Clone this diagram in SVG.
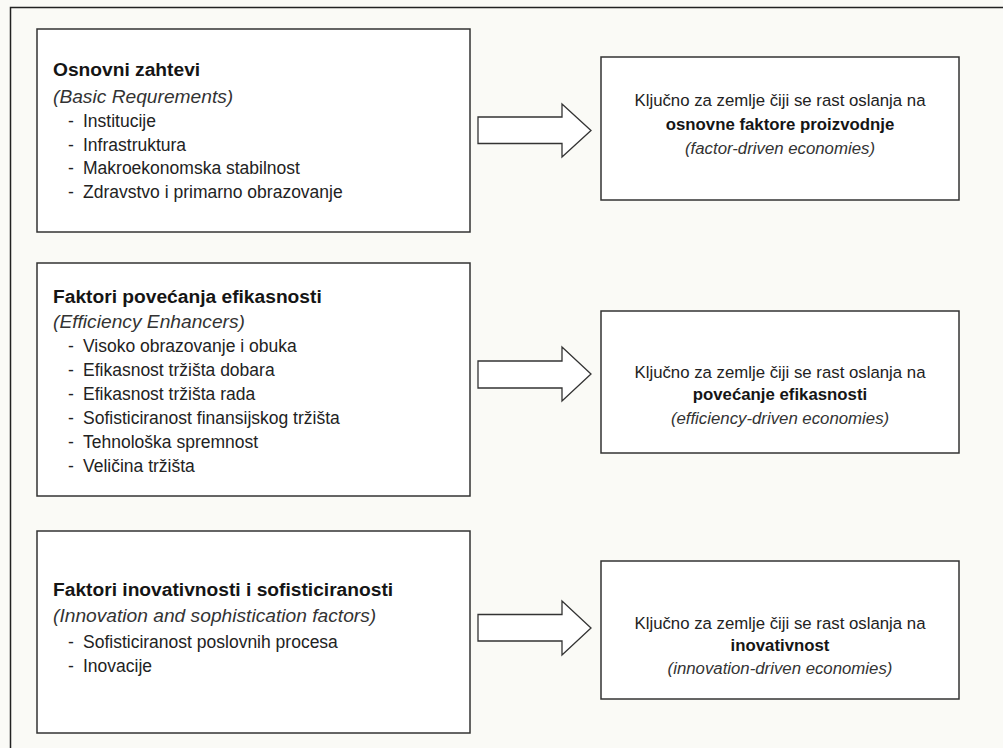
<svg xmlns="http://www.w3.org/2000/svg" width="1003" height="748" viewBox="0 0 1003 748">
<style>
.bg{fill:#fafaf6}
.frame{stroke:#222;stroke-width:1.5;fill:none}
.box{fill:#fff;stroke:#333;stroke-width:1.5}
.arrow{fill:#fff;stroke:#333;stroke-width:1.3;stroke-linejoin:miter}
text{font-family:"Liberation Sans",Arial,sans-serif;fill:#151515}
.t{font-size:19.2px;font-weight:bold}
.s{font-size:19.2px;font-style:italic;fill:#333}
.i{font-size:17.5px;fill:#222}
.r{font-size:16.8px;text-anchor:middle;fill:#222}
.rb{font-size:16.8px;font-weight:bold;text-anchor:middle}
.ri{font-size:16.8px;font-style:italic;text-anchor:middle;fill:#333}
</style>
<rect class="bg" x="0" y="0" width="1003" height="748"/>
<path class="frame" d="M10.5,748 V7.5 H1003"/>

<g id="node-basic">
<rect class="box" x="37" y="29" width="433" height="203"/>
<text class="t" x="53" y="76">Osnovni zahtevi</text>
<text class="s" x="53" y="103">(Basic Requrements)</text>
<text class="i" x="68" y="127">-</text><text class="i" x="83" y="127">Institucije</text>
<text class="i" x="68" y="150.5">-</text><text class="i" x="83" y="150.5">Infrastruktura</text>
<text class="i" x="68" y="174">-</text><text class="i" x="83" y="174">Makroekonomska stabilnost</text>
<text class="i" x="68" y="197.5">-</text><text class="i" x="83" y="197.5">Zdravstvo i primarno obrazovanje</text>
</g>

<g id="node-efficiency">
<rect class="box" x="37" y="263" width="433" height="233"/>
<text class="t" x="53" y="303">Faktori povećanja efikasnosti</text>
<text class="s" x="53" y="328">(Efficiency Enhancers)</text>
<text class="i" x="68" y="352">-</text><text class="i" x="83" y="352">Visoko obrazovanje i obuka</text>
<text class="i" x="68" y="376">-</text><text class="i" x="83" y="376">Efikasnost tržišta dobara</text>
<text class="i" x="68" y="400">-</text><text class="i" x="83" y="400">Efikasnost tržišta rada</text>
<text class="i" x="68" y="424">-</text><text class="i" x="83" y="424">Sofisticiranost finansijskog tržišta</text>
<text class="i" x="68" y="448">-</text><text class="i" x="83" y="448">Tehnološka spremnost</text>
<text class="i" x="68" y="472">-</text><text class="i" x="83" y="472">Veličina tržišta</text>
</g>

<g id="node-innovation">
<rect class="box" x="37" y="531" width="433" height="202"/>
<text class="t" x="53" y="596">Faktori inovativnosti i sofisticiranosti</text>
<text class="s" x="53" y="622">(Innovation and sophistication factors)</text>
<text class="i" x="68" y="648">-</text><text class="i" x="83" y="648">Sofisticiranost poslovnih procesa</text>
<text class="i" x="68" y="672">-</text><text class="i" x="83" y="672">Inovacije</text>
</g>

<g id="node-factor-driven">
<rect class="box" x="601" y="57" width="358" height="143"/>
<text class="r" x="780" y="106">Ključno za zemlje čiji se rast oslanja na</text>
<text class="rb" x="780" y="130">osnovne faktore proizvodnje</text>
<text class="ri" x="780" y="153.5">(factor-driven economies)</text>
</g>

<g id="node-efficiency-driven">
<rect class="box" x="601" y="311" width="358" height="142"/>
<text class="r" x="780" y="378">Ključno za zemlje čiji se rast oslanja na</text>
<text class="rb" x="780" y="400">povećanje efikasnosti</text>
<text class="ri" x="780" y="423.5">(efficiency-driven economies)</text>
</g>

<g id="node-innovation-driven">
<rect class="box" x="601" y="561" width="358" height="138"/>
<text class="r" x="780" y="628.5">Ključno za zemlje čiji se rast oslanja na</text>
<text class="rb" x="780" y="651">inovativnost</text>
<text class="ri" x="780" y="673.5">(innovation-driven economies)</text>
</g>

<g id="connectors">
<path class="arrow" d="M478,117 H562 V104 L591,130.5 L562,157 V143.5 H478 Z"/>
<path class="arrow" d="M478,361 H562 V347 L591,374 L562,401 V388 H478 Z"/>
<path class="arrow" d="M478,614.5 H562 V601 L591,628 L562,655 V641 H478 Z"/>
</g>
</svg>
